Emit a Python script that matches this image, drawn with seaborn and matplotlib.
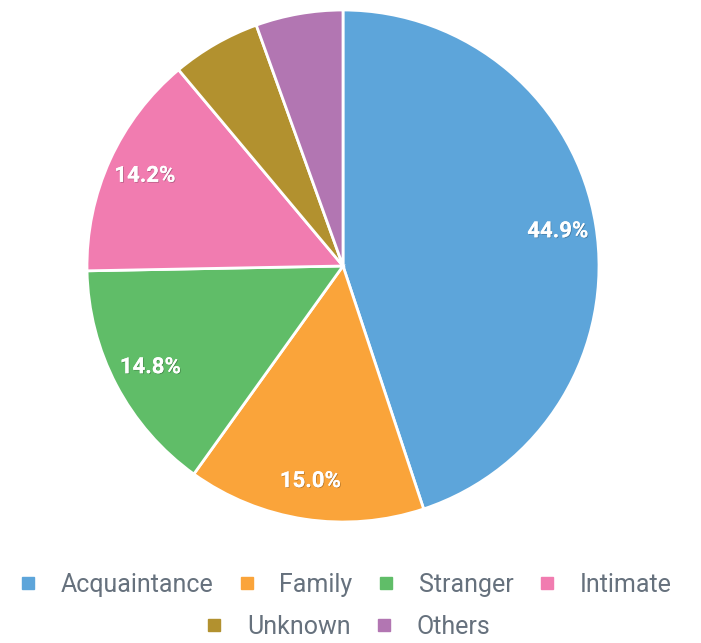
import matplotlib
matplotlib.use('Agg')
import matplotlib.pyplot as plt
import matplotlib.patheffects as pe
from matplotlib.lines import Line2D
import seaborn as sns

# данные
labels = ['Acquaintance', 'Family', 'Stranger', 'Intimate', 'Unknown', 'Others']
shares = [44.9, 15.0, 14.8, 14.2, 5.6, 5.5]
colors = ['#5DA5DA', '#FAA43A', '#60BD68', '#F17CB0', '#B2912F', '#B276B2']

sns.set_theme(style='white')
plt.rcParams['font.family'] = ['Roboto', 'DejaVu Sans']

W, H = 701, 643
fig = plt.figure(figsize=(W / 100, H / 100), dpi=100)
cx, cy, r = 343, 266, 256
ax = fig.add_axes([(cx - r) / W, (H - cy - r) / H, 2 * r / W, 2 * r / H])


def fmt(p):
    return f'{p:.1f}%' if p > 10 else ''


wedges, _, autotexts = ax.pie(
    shares, colors=colors, startangle=90, counterclock=False,
    autopct=fmt, pctdistance=0.85, radius=1,
    wedgeprops=dict(edgecolor='white', linewidth=2),
    textprops=dict(color='white', fontsize=16, fontweight='bold'))
for t in autotexts:
    t.set_path_effects([pe.withSimplePatchShadow(offset=(0.6, -0.6), shadow_rgbFace='black', alpha=0.25),
                        pe.Normal()])
ax.set_xlim(-1.0, 1.0)
ax.set_ylim(-1.0, 1.0)
ax.set_aspect('equal')
ax.axis('off')

handles = [Line2D([], [], marker='s', linestyle='', markersize=9,
                  markerfacecolor=c, markeredgecolor=c) for c in colors]
leg_kw = dict(frameon=False, fontsize=18, handletextpad=0.8, columnspacing=0.85,
              labelcolor='#66717d', handlelength=1.0, borderaxespad=0)
fig.legend(handles[:4], labels[:4], loc='center', ncol=4,
           bbox_to_anchor=(0.49, 1 - 585 / H), **leg_kw)
fig.legend(handles[4:], labels[4:], loc='center', ncol=2,
           bbox_to_anchor=(0.494, 1 - 627 / H), **leg_kw)

fig.savefig('out.png', dpi=100, facecolor='white')
